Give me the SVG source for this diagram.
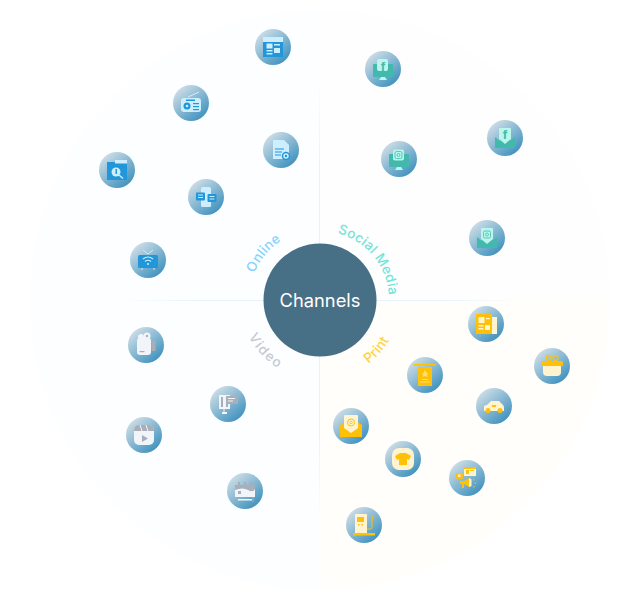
<svg xmlns="http://www.w3.org/2000/svg" width="640" height="600" viewBox="0 0 640 600">
<style>
.lbl{font-family:Inter,"DejaVu Sans",sans-serif;font-size:13.500px;font-weight:500;letter-spacing:0.300px;text-anchor:middle}
.b{fill:#2196d9}.bl{fill:#cdeeff}
.t{fill:#43b9ae}.tl{fill:#b9f6ec}
.y{fill:#ffc107}.yl{fill:#fff4cf}
.g{fill:#a9afb9}.gl{fill:#f1f5f9}
</style>
<defs>
<linearGradient id="bg" x1="0.15" y1="0.1" x2="0.85" y2="0.95"><stop offset="0" stop-color="#cddde6"/><stop offset="1" stop-color="#3a8fbd"/></linearGradient>
<linearGradient id="hl" x1="0" x2="1" y1="0" y2="0"><stop offset="0" stop-color="#e4f3fc" stop-opacity="0"/><stop offset="0.2" stop-color="#e4f3fc"/><stop offset="0.8" stop-color="#e4f3fc"/><stop offset="1" stop-color="#e4f3fc" stop-opacity="0"/></linearGradient>
<linearGradient id="vl" x1="0" x2="0" y1="0" y2="1"><stop offset="0" stop-color="#e4f3fc" stop-opacity="0"/><stop offset="0.2" stop-color="#e4f3fc"/><stop offset="0.8" stop-color="#e4f3fc"/><stop offset="1" stop-color="#e4f3fc" stop-opacity="0"/></linearGradient>
<circle id="badge" r="18" fill="url(#bg)"/>
<path id="p-online" d="M249 300A71 71 0 0 1 391 300"/>
<path id="p-social" d="M251 300A69 69 0 0 1 389 300"/>
<path id="p-low" d="M240 300A80 80 0 0 0 400 300"/>
</defs>
<rect width="640" height="600" fill="#fff"/>
<g id="background">
<path d="M320 300V10A290 290 0 0 0 30 300Z" fill="#fdfeff"/>
<path d="M320 300V10A290 290 0 0 1 610 300Z" fill="#fefefe"/>
<path d="M320 300H610A290 290 0 0 1 320 590Z" fill="#fffefa"/>
<path d="M320 300H30A290 290 0 0 0 320 590Z" fill="#fcfeff"/>
<rect x="120" y="300" width="400" height="1" fill="url(#hl)"/>
<rect x="319" y="80" width="1" height="440" fill="url(#vl)"/>
</g>
<g id="connectors"></g>
<g id="hub"><circle cx="320" cy="300" r="56.500" fill="#476f85"/>
<text x="320" y="306.500" font-family="Inter,'DejaVu Sans',sans-serif" font-size="18.300" fill="#fff" text-anchor="middle">Channels</text></g>
<text class="lbl" fill="#86d3ff"><textPath href="#p-online" startOffset="22%">Online</textPath></text>
<text class="lbl" fill="#74e5d8"><textPath href="#p-social" startOffset="78%">Social Media</textPath></text>
<text class="lbl" fill="#c5cad0" style="letter-spacing:1.500px"><textPath href="#p-low" startOffset="24%">Video</textPath></text>
<text class="lbl" fill="#ffd23f"><textPath href="#p-low" startOffset="77%">Print</textPath></text>

<g id="online-1" transform="translate(273,47)"><use href="#badge"/><rect class="b" x="-10" y="-10" width="20" height="20"/><rect class="bl" x="-10" y="-10" width="20" height="5"/><rect class="bl" x="-6.500" y="-3.500" width="6" height="5"/><rect class="bl" x="1" y="1" width="6" height="5"/><rect class="bl" x="-6.500" y="3" width="6" height="1.500"/><rect class="bl" x="-6.500" y="6" width="6" height="1.500"/><rect class="bl" x="1" y="-3" width="6" height="1.500"/></g>
<g id="online-2" transform="translate(191,103)"><use href="#badge"/><path d="M-3 -6 8 -11" stroke="#cdeeff" fill="none"/><rect class="bl" x="-10" y="-5" width="20" height="14" rx="3"/><circle cx="-4" cy="3" r="3.500" class="b"/><circle cx="-4" cy="3" r="1.300" class="bl"/><rect class="b" x="2" y="0" width="6" height="1.200"/><rect class="b" x="2" y="3" width="6" height="1.200"/><rect class="b" x="2" y="6" width="6" height="1.200"/><rect class="b" x="-5" y="-3.500" width="9" height="1.500"/></g>
<g id="online-3" transform="translate(281,150)"><use href="#badge"/><path class="bl" d="M-8 -10H3L8 -5V9H-8Z"/><path d="M-6 -1H3M-6 2H1M-6 5H0" stroke="#2196d9" fill="none"/><circle cx="5" cy="6" r="3.500" fill="none" stroke="#2196d9" stroke-width="1.500"/><circle cx="5" cy="6" r="1.200" class="b"/></g>
<g id="online-4" transform="translate(117,170)"><use href="#badge"/><path class="b" d="M-10 -8H-2V-9H10V10H-10Z"/><rect class="bl" x="-2" y="-10" width="12" height="3.500"/><circle cx="-1" cy="2" r="4.500" class="bl"/><path d="M2 5 6 8.500" stroke="#cdeeff" stroke-width="1.500"/><rect class="b" x="-1.500" y="-1" width="1.500" height="5"/></g>
<g id="online-5" transform="translate(206,197)"><use href="#badge"/><rect class="bl" x="-5" y="-10" width="10" height="20" rx="1.500"/><rect class="b" x="-10" y="-4.500" width="9" height="8" rx="1"/><rect class="b" x="1.500" y="-3" width="9" height="8" rx="1"/><rect class="bl" x="-8" y="-2.500" width="5" height="1"/><rect class="bl" x="-8" y="0" width="5" height="1"/><rect class="bl" x="3.500" y="-1" width="5" height="1"/><rect class="bl" x="3.500" y="1.500" width="5" height="1"/></g>
<g id="online-6" transform="translate(148,260)"><use href="#badge"/><rect class="b" x="-10" y="-5" width="20" height="13" rx="1.500"/><path d="M-5 -10 0 -6 5 -10M-6 8V10M6 8V10" stroke="#cdeeff" fill="none"/><path d="M-5 -1Q0 -5 5 -1M-3 1.500Q0 -1 3 1.500" stroke="#cdeeff" fill="none" stroke-width="1.200"/><circle cy="4" r="1" class="bl"/></g>

<g id="social-1" transform="translate(383,69)"><use href="#badge"/><rect class="t" x="-10" y="-5" width="20" height="13" rx="1"/><rect class="tl" x="-6" y="-10" width="11" height="12" rx="2"/><path class="tl" d="M-2 8H2L4 11H-4Z"/><text x="0" y="1.500" font-family="Liberation Sans,sans-serif" font-size="13" font-weight="700" fill="#43b9ae" text-anchor="middle">f</text></g>
<g id="social-2" transform="translate(505,138)"><use href="#badge"/><path class="t" d="M-10 -1-5 3V-3H5V3L10 -1V10H-10Z"/><path class="tl" d="M-6 -9Q-6 -10 -5 -10H5Q6 -10 6 -9V1L0 6-6 1Z"/><text y="1" font-family="Liberation Sans,sans-serif" font-size="13" font-weight="700" fill="#43b9ae" text-anchor="middle">f</text></g>
<g id="social-3" transform="translate(399,159)"><use href="#badge"/><rect class="t" x="-10" y="-5" width="20" height="13" rx="1"/><rect class="tl" x="-6" y="-9.500" width="11" height="11" rx="2"/><rect x="-4" y="-7.500" width="7" height="7" rx="1.500" fill="none" stroke="#43b9ae" stroke-width="0.800"/><circle cx="-0.500" cy="-4" r="1.500" fill="none" stroke="#43b9ae" stroke-width="0.800"/><path class="tl" d="M-2 8H2L4 11H-4Z"/></g>
<g id="social-4" transform="translate(487,238)"><use href="#badge"/><path class="t" d="M-10 -1-5 3V-3H5V3L10 -1V10H-10Z"/><path class="tl" d="M-6 -9Q-6 -10 -5 -10H5Q6 -10 6 -9V1L0 6-6 1Z"/><rect x="-3.500" y="-7" width="7" height="7" rx="1.500" fill="none" stroke="#43b9ae" stroke-width="0.800"/><circle cy="-3.500" r="1.500" fill="none" stroke="#43b9ae" stroke-width="0.800"/></g>

<g id="print-1" transform="translate(486,324)"><use href="#badge"/><rect class="yl" x="5" y="-7" width="6" height="17"/><rect class="y" x="-10" y="-10" width="16" height="20"/><rect class="yl" x="-7.500" y="-7" width="6" height="6"/><rect class="yl" x="-1" y="1" width="5" height="5"/><rect class="yl" x="-7.500" y="1" width="5" height="1.500"/><rect class="yl" x="-7.500" y="4" width="5" height="1.500"/><rect class="yl" x="0" y="-6" width="4" height="1.200"/></g>
<g id="print-2" transform="translate(552,366)"><use href="#badge"/><path class="yl" d="M-9 -3H9V6Q9 10 5 10H-5Q-9 10-9 6Z"/><rect class="y" x="-11" y="-5" width="22" height="5" rx="1.500"/><circle cx="-3" cy="-8" r="2.500" fill="none" stroke="#ffc107" stroke-width="1.300"/><circle cx="3.500" cy="-8" r="2.500" fill="none" stroke="#ffc107" stroke-width="1.300"/></g>
<g id="print-3" transform="translate(425,375)"><use href="#badge"/><rect class="y" x="-11" y="-11" width="22" height="1.500"/><rect class="y" x="-7" y="-8" width="14" height="19"/><path d="M0 -5 1.500 -2 3 -2 2 0 2.500 2 0 1-2.500 2-2 0-3 -2-1.500 -2Z" fill="#ffe07a"/><rect x="-3" y="4" width="6" height="1" fill="#ffe07a"/><rect x="-5" y="6.500" width="10" height="1" fill="#ffe07a"/></g>
<g id="print-4" transform="translate(494,406)"><use href="#badge"/><path class="yl" d="M-10 5V1Q-10 -1 -7 -1L-3 -5H5L9 -1Q10 0 10 2V5Z"/><rect class="y" x="-2" y="-1" width="4" height="2"/><circle cx="-6" cy="4.500" r="2.500" class="y"/><circle cx="6" cy="4.500" r="2.500" class="y"/></g>
<g id="print-5" transform="translate(351,426)"><use href="#badge"/><path class="y" d="M-11 -1-5 -5V0L0 4 5 0V-5L11 -1V11H-11Z"/><path class="yl" d="M-7 -10Q-7 -11 -6 -11H6Q7 -11 7 -10V2L0 7-7 2Z"/><circle cy="-3.500" r="3.500" fill="none" stroke="#ffc107"/><circle cy="-3.500" r="1.300" fill="none" stroke="#ffc107" stroke-width="0.800"/></g>
<g id="print-6" transform="translate(403,459)"><use href="#badge"/><rect class="yl" x="-11" y="-11" width="22" height="22" rx="7"/><path class="y" d="M-3 -6H3L8 -3 6 1 4 0V6H-4V0L-6 1-8 -3Z"/></g>
<g id="print-7" transform="translate(467,478)"><use href="#badge"/><rect class="yl" x="-3" y="-11" width="12" height="9"/><rect class="y" x="-3" y="-11" width="12" height="2"/><rect class="y" x="-1" y="-8" width="3" height="4"/><rect class="y" x="3" y="-8" width="4" height="1"/><rect class="y" x="-11" y="-5" width="7" height="6" rx="1.500"/><rect class="yl" x="-9" y="-3.500" width="2.500" height="2.500"/><path class="y" d="M-7 3H-3L2 0V9L-3 6V10H-5V6H-7Z"/><path class="yl" d="M2 0 4.500 1.500V8L2 9Z"/><path d="M7 1V2.500M8.500 4.500V6M7 8V9.500" stroke="#ffc107"/></g>
<g id="print-8" transform="translate(364,525)"><use href="#badge"/><rect class="yl" x="-9" y="-11" width="12" height="19"/><rect class="y" x="-7" y="-8" width="7" height="5"/><rect class="y" x="-6" y="-1" width="1.500" height="1.500"/><rect class="y" x="-2.500" y="-1" width="1.500" height="1.500"/><path d="M3 4H7Q8 4 8 1V-5L9 -9" fill="none" stroke="#ffc107"/><rect class="y" x="-11" y="8" width="22" height="2.500"/></g>

<g id="video-1" transform="translate(146,345)"><use href="#badge"/><rect class="gl" x="-9" y="-7" width="14" height="17" rx="3"/><circle cx="-5" cy="-8" r="3" class="gl"/><circle cx="1" cy="-9" r="3.500" class="gl"/><circle cx="1" cy="-9" r="1.200" class="g"/><rect class="g" x="5.500" y="-4" width="4" height="10" rx="1"/><rect class="g" x="-6.500" y="6" width="5" height="1.200"/></g>
<g id="video-2" transform="translate(228,404)"><use href="#badge"/><rect class="gl" x="-9" y="-9" width="11" height="14"/><rect class="g" x="-7" y="-7" width="7" height="10"/><rect class="gl" x="-5" y="-7" width="3" height="10"/><rect class="g" x="-2" y="-8" width="12" height="8" rx="1"/><rect class="gl" x="0" y="-6" width="7" height="1"/><rect class="gl" x="0" y="-3.500" width="5" height="1"/><path d="M-4 5V9" stroke="#f1f5f9"/><rect class="gl" x="-6" y="8" width="5" height="2"/></g>
<g id="video-3" transform="translate(144,435)"><use href="#badge"/><rect class="gl" x="-10" y="-10" width="20" height="20" rx="5"/><path class="g" d="M-10 -4V-5Q-10 -10 -5 -10H5Q10 -10 10 -5V-4Z"/><path d="M-4 -10-2 -4M2 -10 4 -4" stroke="#f1f5f9"/><path class="g" d="M-2 0 4 3.500-2 7Z"/></g>
<g id="video-4" transform="translate(245,491)"><use href="#badge"/><rect class="g" x="-10" y="-6" width="20" height="12"/><path class="gl" d="M-10 -1Q-2 -4 3 -1T10 -2V6H-10Z"/><rect class="g" x="-7" y="-9" width="2" height="4"/><rect class="g" x="-1" y="-9" width="2" height="4"/><rect class="g" x="5" y="-9" width="2" height="4"/><rect class="g" x="-7" y="0" width="3" height="3"/><rect class="gl" x="-7" y="8" width="14" height="1.500"/><path d="M-8 6V11M8 6V11" stroke="#a9afb9"/></g>
</svg>
